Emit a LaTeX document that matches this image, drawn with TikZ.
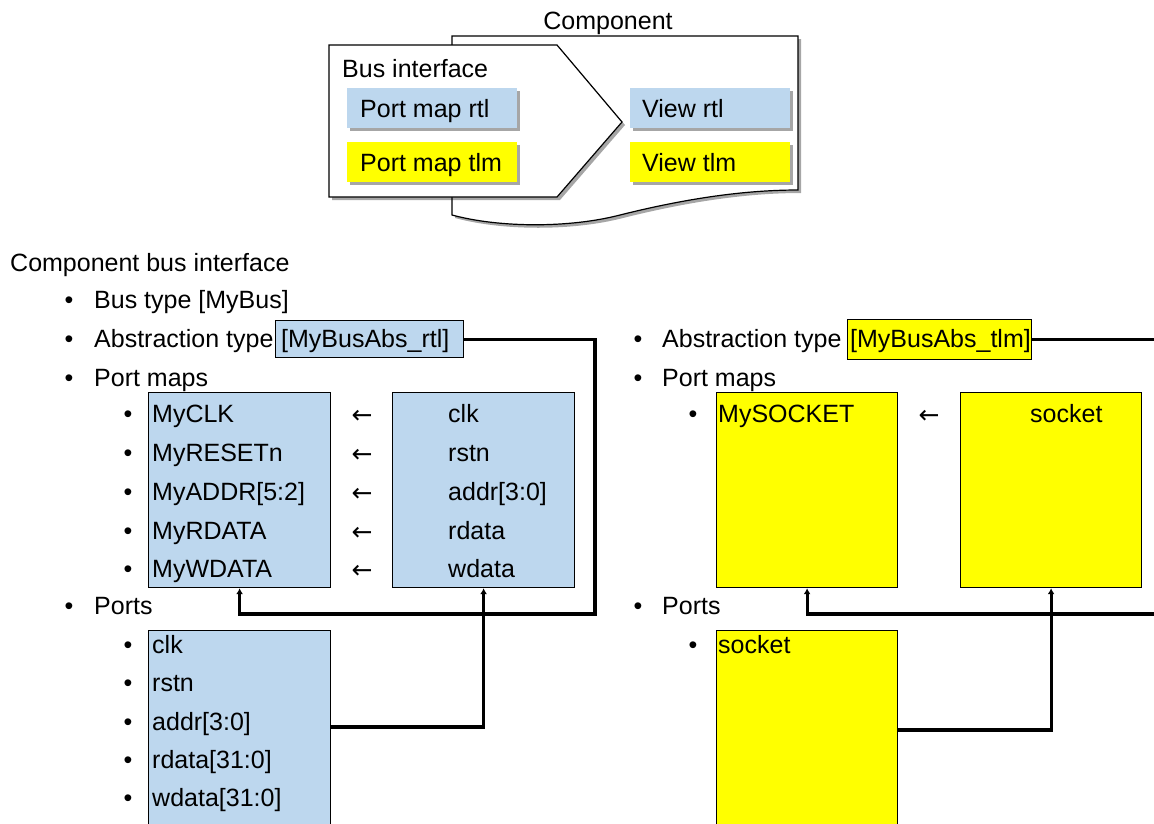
\documentclass[tikz,border=0pt]{standalone}
\usepackage{fontspec}
\setmainfont{Liberation Sans}
\newfontfamily\arrowfont{DejaVu Sans}
\usetikzlibrary{arrows.meta,shadows}
\definecolor{lblue}{RGB}{189,215,238}
\definecolor{yel}{RGB}{255,255,0}
\begin{document}
\begin{tikzpicture}[x=1pt,y=-1pt,
  txt/.style={anchor=base west, inner sep=0pt, font=\fontsize{25}{29}\selectfont},
  ctxt/.style={anchor=base, inner sep=0pt, font=\fontsize{25}{29}\selectfont},
  arrtxt/.style={anchor=center, inner sep=0pt, font=\arrowfont\fontsize{25}{29}\selectfont},
  shad/.style={drop shadow={shadow xshift=3pt, shadow yshift=-3pt, opacity=0.35, fill=black}},
  topbox/.style={anchor=north west, inner sep=0pt, minimum height=40pt, shad},
  listbox/.style={anchor=north west, inner sep=0pt, draw=black, line width=1.2pt},
  conn/.style={draw=black, line width=3.2pt},
  arrowed/.style={conn, -{Latex[length=6pt,width=7pt]}}]
\path[use as bounding box] (0,0) rectangle (1154,823);
\begin{scope}
\clip (0,0) rectangle (1154,823);

% ---------- top: component ----------
\node[ctxt] (comp) at (608,29) {Component};
\draw[line width=1.2pt, fill=white, shad] (452,36) -- (798,36) -- (798,190)
  .. controls (740,190) and (680,200) .. (620,215)
  .. controls (570,228) and (500,228) .. (452,215) -- cycle;
\draw[line width=1.2pt, fill=white, shad] (329,45) -- (557,45) -- (622,122) -- (557,197) -- (329,197) -- cycle;
\node[txt] (busif) at (342,77) {Bus interface};
\node[topbox, fill=lblue, minimum width=170pt] (pmrtl) at (347,88) {};
\node[txt] (pmrtlt) at (360,117) {Port map rtl};
\node[topbox, fill=yel, minimum width=170pt] (pmtlm) at (347,142) {};
\node[txt] (pmtlmt) at (360,171) {Port map tlm};
\node[topbox, fill=lblue, minimum width=160pt] (vrtl) at (630,88) {};
\node[txt] (vrtlt) at (642,117) {View rtl};
\node[topbox, fill=yel, minimum width=160pt] (vtlm) at (630,142) {};
\node[txt] (vtlmt) at (642,171) {View tlm};

% ---------- left: rtl ----------
\node[txt] (cbi) at (10,271) {Component bus interface};
\node[ctxt] (b1) at (69,308) {•};
\node[txt] (bt) at (94,308) {Bus type [MyBus]};
\node[ctxt] (b2) at (69,347) {•};
\node[txt] (at) at (94,347) {Abstraction type};
\node[listbox, fill=lblue, minimum width=188pt, minimum height=37pt] (absR) at (275,320) {};
\node[txt] (absRt) at (281,347) {[MyBusAbs\_rtl]};
\node[ctxt] (b3) at (69,386) {•};
\node[txt] (pm) at (94,386) {Port maps};
\node[listbox, fill=lblue, minimum width=182pt, minimum height=195pt] (pmL) at (148,392) {};
\node[listbox, fill=lblue, minimum width=182pt, minimum height=195pt] (pmR) at (392,392) {};
\foreach \y/\a/\b [count=\i] in {422/MyCLK/clk, 461/MyRESETn/rstn, 500/{MyADDR[5:2]}/{addr[3:0]}, 539/MyRDATA/rdata, 577/MyWDATA/wdata}{
  \node[ctxt] (lb\i) at (128,\y) {•};
  \node[txt] (la\i) at (152,\y) {\a};
  \node[arrtxt] (lr\i) at (362,\y-5) {←};
  \node[txt] (lc\i) at (448,\y) {\b};
}
\node[ctxt] (b4) at (69,614) {•};
\node[txt] (pt) at (94,614) {Ports};
\node[listbox, fill=lblue, minimum width=182pt, minimum height=210pt] (portsL) at (148,630) {};
\foreach \y/\a [count=\i] in {653/clk, 691/rstn, 730/{addr[3:0]}, 768/{rdata[31:0]}, 806/{wdata[31:0]}}{
  \node[ctxt] (pb\i) at (128,\y) {•};
  \node[txt] (pa\i) at (152,\y) {\a};
}

% ---------- right: tlm ----------
\node[ctxt] (rb1) at (638,347) {•};
\node[txt] (rat) at (662,347) {Abstraction type};
\node[listbox, fill=yel, minimum width=184pt, minimum height=40pt] (absT) at (847,319) {};
\node[txt] (absTt) at (850,347) {[MyBusAbs\_tlm]};
\node[ctxt] (rb2) at (638,386) {•};
\node[txt] (rpm) at (662,386) {Port maps};
\node[listbox, fill=yel, minimum width=181pt, minimum height=195pt] (tmL) at (716,392) {};
\node[listbox, fill=yel, minimum width=181pt, minimum height=195pt] (tmR) at (960,392) {};
\node[ctxt] (rb3) at (693,422) {•};
\node[txt] (mys) at (718,422) {MySOCKET};
\node[arrtxt] (rarr) at (929,417) {←};
\node[txt] (sock) at (1030,422) {socket};
\node[ctxt] (rb4) at (638,614) {•};
\node[txt] (rpt) at (662,614) {Ports};
\node[listbox, fill=yel, minimum width=181pt, minimum height=210pt] (portsT) at (716,630) {};
\node[ctxt] (rb5) at (693,653) {•};
\node[txt] (psock) at (718,653) {socket};

% ---------- connectors ----------
\coordinate (c1) at (595,614);
\coordinate (c2) at (330,727);
\coordinate (c3) at (1160,338);
\coordinate (c4) at (1160,614);
\coordinate (c5) at (897,730);
\draw[arrowed] (absR.east) -| (c1) -| (pmL.south);
\draw[arrowed] (c2) -| (pmR.south);
\draw[conn, line width=2.6pt] (absT.east) -- (absT.east -| c3);
\draw[arrowed] (c4) -| (tmL.south);
\draw[arrowed] (c5) -| (tmR.south);
\end{scope}
\end{tikzpicture}
\end{document}
